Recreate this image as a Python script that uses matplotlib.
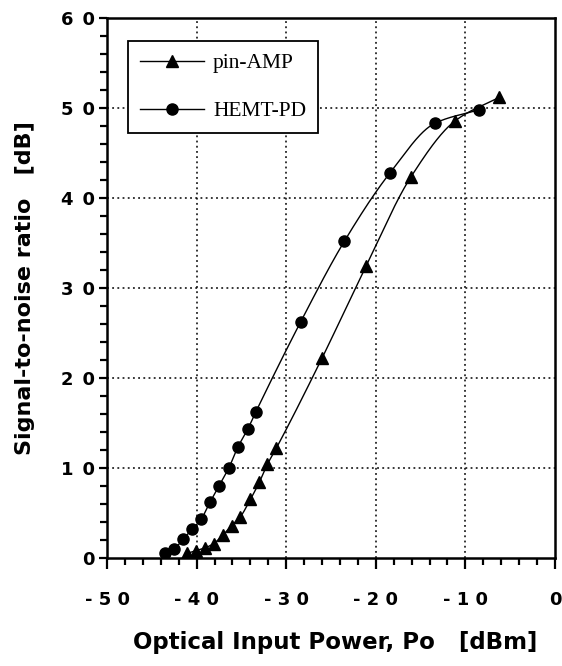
import numpy as np
import matplotlib
matplotlib.use("Agg")
import matplotlib.pyplot as plt
from matplotlib.ticker import MultipleLocator, FixedLocator, FixedFormatter

# Signal-to-noise ratio versus optical input power for two receiver types
hemt_power = [-43.5, -42.5, -41.5, -40.5, -39.5, -38.5, -37.5, -36.4, -35.4,
              -34.3, -33.4, -28.4, -23.5, -18.4, -13.4, -8.5]
hemt_snr = [0.5, 1.0, 2.1, 3.2, 4.3, 6.2, 8.0, 10.0, 12.3,
            14.3, 16.2, 26.2, 35.2, 42.8, 48.3, 49.8]

pin_power = [-41.1, -40.1, -39.1, -38.1, -37.1, -36.1, -35.1, -34.0, -33.0,
             -32.1, -31.1, -26.0, -21.1, -16.1, -11.1, -6.2]
pin_snr = [0.5, 0.8, 1.1, 1.6, 2.5, 3.6, 4.6, 6.5, 8.4,
           10.4, 12.2, 22.2, 32.4, 42.3, 48.6, 51.2]

x_ticks = [-50, -40, -30, -20, -10, 0]
x_tick_labels = ["- 5 0", "- 4 0", "- 3 0", "- 2 0", "- 1 0", "0"]
y_ticks = [0, 10, 20, 30, 40, 50, 60]
y_tick_labels = ["0", "1\u20020", "2\u20020", "3\u20020", "4\u20020", "5\u20020", "6\u20020"]

series_names = ["pin-AMP", "HEMT-PD"]


def pchip(x, y, n=300):
    """Monotone cubic Hermite curve through the measured points."""
    x = np.asarray(x, float)
    y = np.asarray(y, float)
    h = np.diff(x)
    d = np.diff(y) / h
    m = np.zeros_like(y)
    for k in range(1, len(x) - 1):
        if d[k - 1] * d[k] > 0:
            w1 = 2 * h[k] + h[k - 1]
            w2 = h[k] + 2 * h[k - 1]
            m[k] = (w1 + w2) / (w1 / d[k - 1] + w2 / d[k])
    m[0] = d[0]
    m[-1] = d[-1]
    xs = np.linspace(x[0], x[-1], n)
    idx = np.clip(np.searchsorted(x, xs) - 1, 0, len(x) - 2)
    t = (xs - x[idx]) / h[idx]
    h00 = 2 * t**3 - 3 * t**2 + 1
    h10 = t**3 - 2 * t**2 + t
    h01 = -2 * t**3 + 3 * t**2
    h11 = t**3 - t**2
    ys = (h00 * y[idx] + h10 * h[idx] * m[idx]
          + h01 * y[idx + 1] + h11 * h[idx] * m[idx + 1])
    return xs, ys


fig = plt.figure(figsize=(5.62, 6.66), dpi=100)
ax = fig.add_axes([0.1904, 0.1622, 0.797, 0.8108])

ax.set_xlim(-50, 0)
ax.set_ylim(0, 60)

# dotted grid at the major ticks
for xv in x_ticks[1:-1]:
    ax.axvline(xv, color="black", lw=1.1, ls=(0, (1.2, 2.2)), zorder=1)
for yv in y_ticks[1:-1]:
    ax.axhline(yv, color="black", lw=1.1, ls=(0, (1.2, 2.2)), zorder=1)

# curves
xs, ys = pchip(pin_power, pin_snr)
ax.plot(xs, ys, color="black", lw=1.0, zorder=3)
ax.plot(pin_power, pin_snr, ls="none", marker="^", ms=8.5, color="black", zorder=4)

xs, ys = pchip(hemt_power, hemt_snr)
ax.plot(xs, ys, color="black", lw=1.0, zorder=3)
ax.plot(hemt_power, hemt_snr, ls="none", marker="o", ms=8, color="black", zorder=4)

# legend proxies
h_pin, = ax.plot([], [], color="black", lw=1.0, marker="^", ms=8.5)
h_hemt, = ax.plot([], [], color="black", lw=1.0, marker="o", ms=8)
leg = ax.legend([h_pin, h_hemt], series_names, loc="upper left",
                bbox_to_anchor=(0.047, 0.957), borderaxespad=0,
                prop={"family": "Liberation Serif", "size": 15.5},
                handlelength=3.0, handletextpad=0.4, labelspacing=1.3,
                borderpad=0.55, fancybox=False, framealpha=1,
                edgecolor="black", numpoints=1)
leg.get_frame().set_linewidth(1.3)
leg.set_zorder(5)

# spines and ticks
for s in ax.spines.values():
    s.set_linewidth(1.8)

ax.xaxis.set_major_locator(FixedLocator(x_ticks))
ax.xaxis.set_major_formatter(FixedFormatter(x_tick_labels))
ax.yaxis.set_major_locator(FixedLocator(y_ticks))
ax.yaxis.set_major_formatter(FixedFormatter(y_tick_labels))
ax.xaxis.set_minor_locator(MultipleLocator(2))
ax.yaxis.set_minor_locator(MultipleLocator(2))

ax.tick_params(axis="x", which="major", direction="out", length=8, width=1.6,
               pad=16)
ax.tick_params(axis="x", which="minor", direction="out", length=5, width=1.6)
ax.tick_params(axis="y", which="major", direction="out", length=6, width=1.6,
               pad=3)
ax.tick_params(axis="y", which="minor", direction="out", length=5, width=1.6)
ax.tick_params(top=False, right=False, which="both")

for lab in ax.get_xticklabels() + ax.get_yticklabels():
    lab.set_family("DejaVu Sans")
    lab.set_fontweight("bold")
    lab.set_fontsize(13)

ax.set_xlabel("Optical Input Power, Po   [dBm]", family="DejaVu Sans",
              fontweight="bold", fontsize=16.5)
ax.set_ylabel("Signal-to-noise ratio   [dB]", family="DejaVu Sans",
              fontweight="bold", fontsize=16)
ax.xaxis.set_label_coords(0.51, -0.157)
ax.xaxis.label.set_va("center")
ax.yaxis.set_label_coords(-0.183, 0.5)
ax.yaxis.label.set_va("center")

fig.savefig("out.png", dpi=100)
